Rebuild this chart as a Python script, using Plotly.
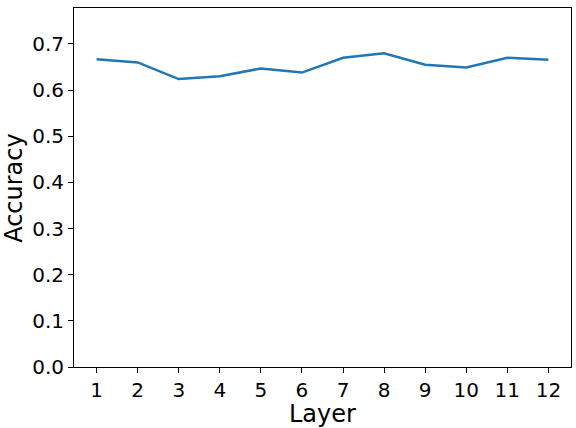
import plotly.graph_objects as go

# layer-wise probing accuracy
layers = [1, 2, 3, 4, 5, 6, 7, 8, 9, 10, 11, 12]
accuracy = [0.667, 0.660, 0.624, 0.630, 0.647, 0.638, 0.670, 0.680, 0.655, 0.649, 0.670, 0.666]
y_ticks = [0.0, 0.1, 0.2, 0.3, 0.4, 0.5, 0.6, 0.7]

fig = go.Figure()
fig.add_trace(go.Scatter(
    x=layers, y=accuracy, mode="lines",
    line=dict(color="#1f77b4", width=2.5),
    showlegend=False))

axis_style = dict(
    showline=True, linecolor="black", linewidth=1, mirror=True,
    ticks="outside", ticklen=5, tickwidth=1, tickcolor="black",
    showgrid=False, zeroline=False, automargin=False,
    tickfont=dict(family="DejaVu Sans", size=20, color="black"),
)

fig.update_xaxes(range=[0.45, 12.55], tickmode="array", tickvals=layers, **axis_style)
fig.update_yaxes(
    range=[0, 0.778], tickmode="array", tickvals=y_ticks,
    ticktext=[f"{v:.1f}" for v in y_ticks], **axis_style)

label_font = dict(family="DejaVu Sans", size=24, color="black")
fig.add_annotation(text="Layer", xref="paper", yref="paper", x=0.5, y=-0.13,
                   xanchor="center", yanchor="middle", showarrow=False, font=label_font)
fig.add_annotation(text="Accuracy", xref="paper", yref="paper", x=-0.122, y=0.5,
                   xanchor="center", yanchor="middle", textangle=-90,
                   showarrow=False, font=label_font)

fig.update_layout(
    width=576, height=428,
    margin=dict(l=74, r=5, t=8, b=61),
    plot_bgcolor="white", paper_bgcolor="white",
    font=dict(family="DejaVu Sans", color="black"),
)

# drop the default page margin so the figure sits at the window corner
fig.write_html("out.html", config={"displayModeBar": False},
               post_script="document.body.style.margin='0';")
